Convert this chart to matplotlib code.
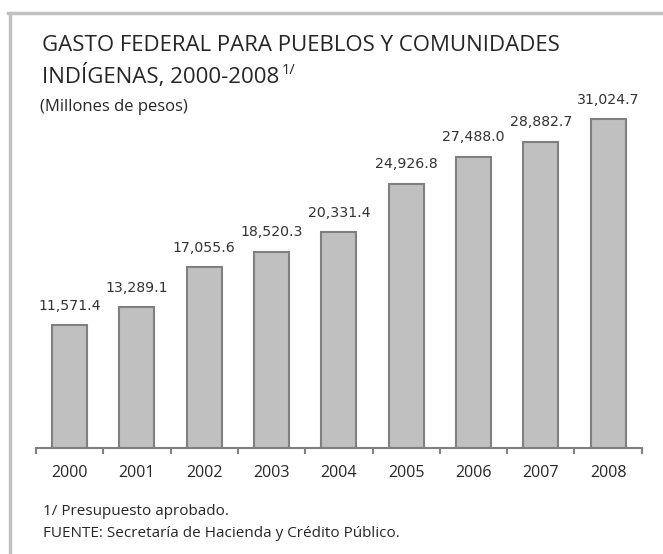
import numpy as np
import matplotlib.pyplot as plt
from matplotlib.lines import Line2D

# datos: gasto federal, millones de pesos
years = ["2000", "2001", "2002", "2003", "2004", "2005", "2006", "2007", "2008"]
gasto = [11571.4, 13289.1, 17055.6, 18520.3, 20331.4, 24926.8, 27488.0, 28882.7, 31024.7]

title_1 = "GASTO FEDERAL PARA PUEBLOS Y COMUNIDADES"
title_2 = "INDÍGENAS, 2000-2008"
subtitle = "(Millones de pesos)"
note_1 = "1/ Presupuesto aprobado."
note_2 = "FUENTE: Secretaría de Hacienda y Crédito Público."

font = "Open Sans"
bar_face = "#c0c0c0"
bar_edge = "#808080"
text_col = "#262626"

fig = plt.figure(figsize=(6.63, 5.54), dpi=100)
ax = fig.add_axes([0.0543, 0.1913, 0.9137, 0.6317])

x = np.arange(len(years))
ax.bar(x, gasto, width=0.52, color=bar_face, edgecolor=bar_edge, linewidth=1.5, zorder=2)

for xi, v in zip(x, gasto):
    ax.annotate(f"{v:,.1f}", xy=(xi, v), xytext=(0, 11), textcoords="offset points",
                ha="center", va="baseline", fontsize=10.2, color="#333333",
                family="DejaVu Sans")

ax.set_xlim(-0.5, len(years) - 0.5)
ax.set_ylim(0, 33000)

for s in ["left", "right", "top"]:
    ax.spines[s].set_visible(False)
ax.spines["bottom"].set_color(bar_edge)
ax.spines["bottom"].set_linewidth(1.5)
ax.set_yticks([])

# ticks at category boundaries, labels at centers
ax.set_xticks(np.arange(-0.5, len(years), 1.0))
ax.set_xticklabels([])
ax.tick_params(axis="x", which="major", direction="out", length=4, width=1.5, color=bar_edge)
ax.set_xticks(x, minor=True)
ax.set_xticklabels(years, minor=True, fontsize=11.5, family=font, color=text_col)
ax.tick_params(axis="x", which="minor", length=0, pad=12)

# títulos y notas
fig.text(0.063, 0.908, title_1, fontsize=16, family=font, color=text_col, va="baseline")
t2 = fig.text(0.063, 0.85, title_2, fontsize=16, family=font, color=text_col, va="baseline")
fig.canvas.draw()
bb = t2.get_window_extent()
fig.text(bb.x1 / fig.bbox.width + 0.004, 0.866, "1/", fontsize=10.5, family=font,
         color=text_col, va="baseline")
fig.text(0.06, 0.8, subtitle, fontsize=12, family=font, color=text_col, va="baseline")
fig.text(0.065, 0.071, note_1, fontsize=11, family=font, color=text_col, va="baseline")
fig.text(0.065, 0.03, note_2, fontsize=11, family=font, color=text_col, va="baseline")

# marco gris arriba e izquierda
border = "#c0c0c0"
fig.add_artist(Line2D([0.012, 1.0], [0.976, 0.976], color=border, lw=2.5,
                      transform=fig.transFigure))
fig.add_artist(Line2D([0.015, 0.015], [0.0, 0.976], color=border, lw=2.5,
                      transform=fig.transFigure))

fig.savefig("out.png", dpi=100)
